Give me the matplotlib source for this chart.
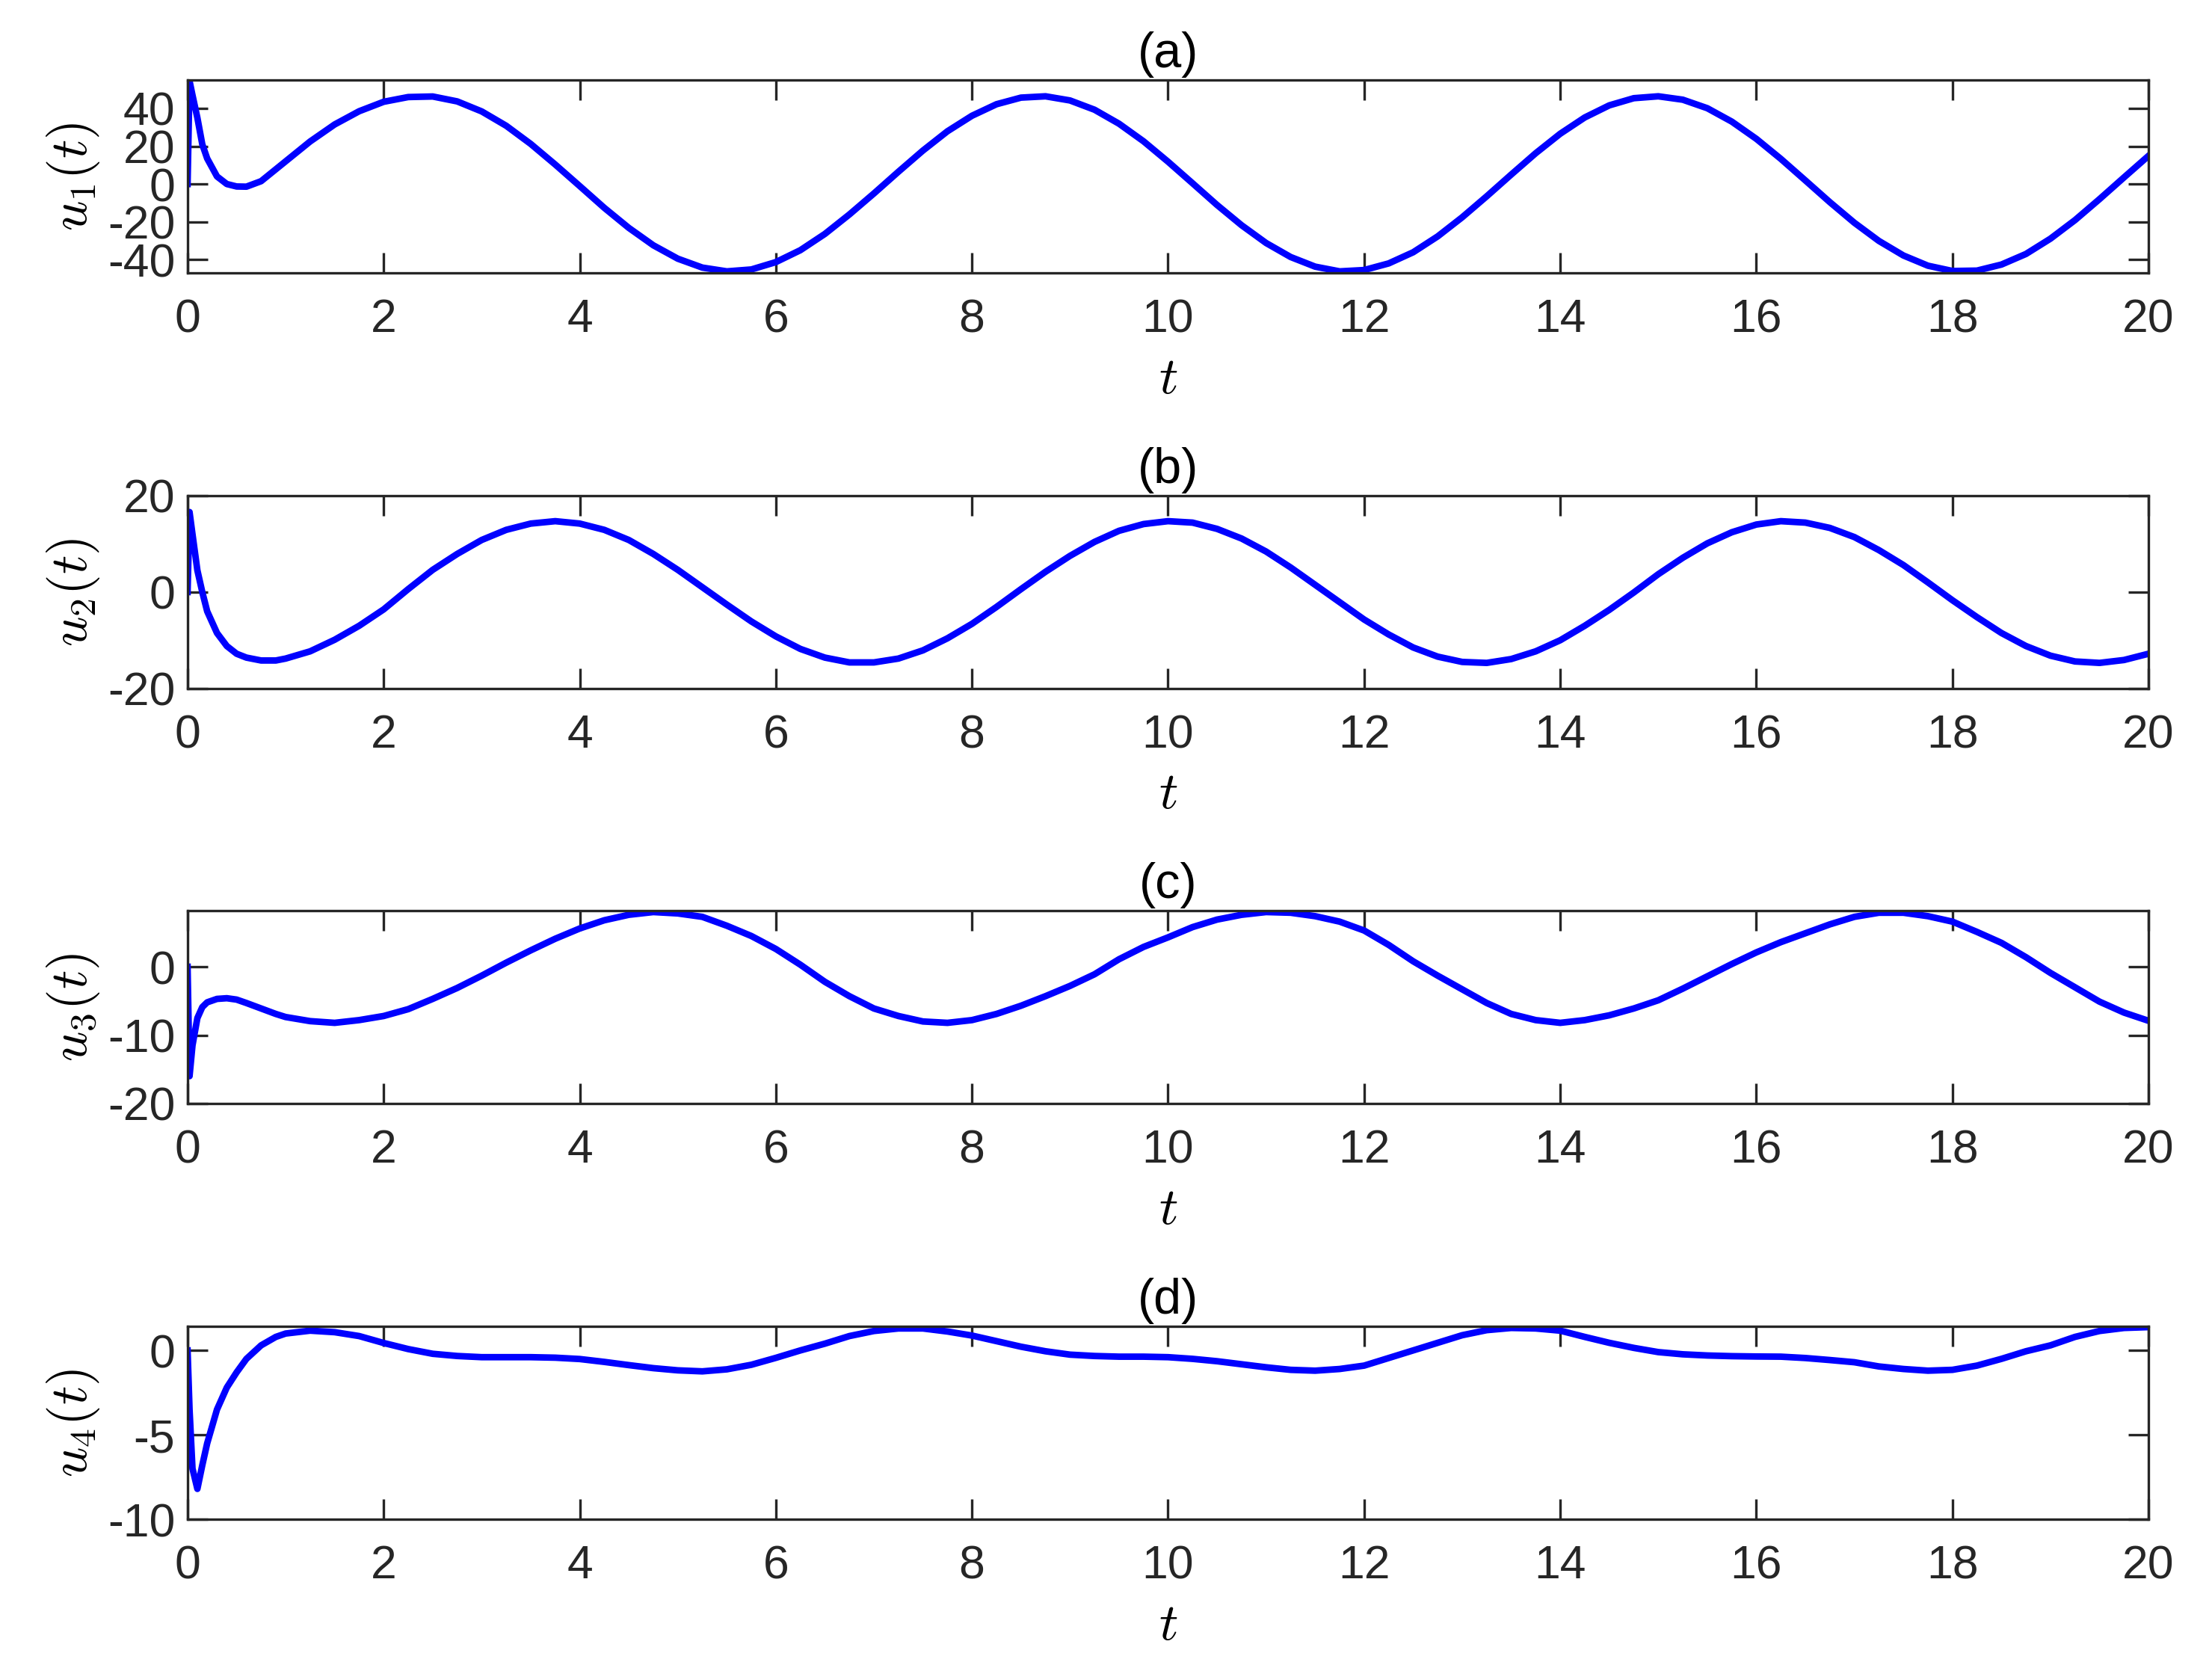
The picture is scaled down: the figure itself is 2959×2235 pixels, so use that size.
import matplotlib
matplotlib.use("Agg")
import matplotlib.pyplot as plt
import numpy as np

plt.rcParams['font.family'] = ['Liberation Sans', 'DejaVu Sans']
plt.rcParams['mathtext.fontset'] = 'cm'
plt.rcParams['axes.unicode_minus'] = False

# ---- data ----
t = [0, 0.02, 0.05, 0.1, 0.15, 0.2, 0.3, 0.4, 0.5, 0.6, 0.75, 0.9,
     1.0, 1.25, 1.5, 1.75, 2.0, 2.25, 2.5, 2.75, 3.0, 3.25, 3.5, 3.75,
     4.0, 4.25, 4.5, 4.75, 5.0, 5.25, 5.5, 5.75, 6.0, 6.25, 6.5, 6.75,
     7.0, 7.25, 7.5, 7.75, 8.0, 8.25, 8.5, 8.75, 9.0, 9.25, 9.5, 9.75,
     10.0, 10.25, 10.5, 10.75, 11.0, 11.25, 11.5, 11.75, 12.0, 12.25, 12.5, 12.75,
     13.0, 13.25, 13.5, 13.75, 14.0, 14.25, 14.5, 14.75, 15.0, 15.25, 15.5, 15.75,
     16.0, 16.25, 16.5, 16.75, 17.0, 17.25, 17.5, 17.75, 18.0, 18.25, 18.5, 18.75,
     19.0, 19.25, 19.5, 19.75, 20.0]

u1 = [0, 54.5, 47, 35, 21, 13.5, 4, 0, -1.3, -1.4, 1.5, 7.8,
      12.0, 22.5, 31.5, 38.5, 43.5, 46.0, 46.3, 43.7, 38.4, 30.8, 21.2, 10.3,
      -1.1, -12.6, -23.2, -32.4, -39.5, -44.2, -46.2, -45.2, -41.3, -35.0, -26.4, -16.1,
      -5.0, 6.5, 17.7, 27.9, 36.1, 42.2, 45.7, 46.4, 44.2, 39.3, 31.9, 22.6,
      11.8, 0.4, -11.1, -21.8, -31.2, -38.6, -43.7, -46.2, -45.5, -42.0, -36.1, -27.7,
      -17.6, -6.5, 5.0, 16.3, 26.6, 35.2, 41.6, 45.4, 46.4, 44.6, 40.1, 33.0,
      23.9, 13.3, 1.9, -9.6, -20.5, -30.1, -37.8, -43.2, -46.0, -45.8, -42.6, -37.0,
      -28.9, -19.1, -8.0, 3.5, 14.9]

u2 = [0, 16.6, 12, 4.5, 0, -4, -8.5, -11.2, -12.8, -13.6, -14.2, -14.2,
      -13.8, -12.3, -9.9, -7.0, -3.6, 0.6, 4.6, 7.9, 10.8, 12.9, 14.2, 14.7,
      14.2, 12.9, 10.8, 7.9, 4.6, 1.0, -2.6, -6.1, -9.2, -11.8, -13.6, -14.6,
      -14.6, -13.8, -12.1, -9.6, -6.6, -3.1, 0.6, 4.2, 7.5, 10.4, 12.7, 14.1,
      14.7, 14.4, 13.1, 11.1, 8.4, 5.1, 1.5, -2.1, -5.7, -8.8, -11.5, -13.4,
      -14.5, -14.7, -13.9, -12.3, -10.0, -7.0, -3.7, -0.1, 3.7, 7.1, 10.1, 12.4,
      14.0, 14.7, 14.4, 13.3, 11.4, 8.7, 5.6, 2.0, -1.7, -5.2, -8.5, -11.2,
      -13.2, -14.4, -14.7, -14.1, -12.8]

u3 = [0, -16, -11.5, -7.5, -5.9, -5.2, -4.7, -4.6, -4.8, -5.3, -6.1, -6.9,
      -7.35, -7.95, -8.2, -7.8, -7.2, -6.2, -4.7, -3.1, -1.3, 0.6, 2.4, 4.1,
      5.6, 6.8, 7.6, 8.0, 7.8, 7.3, 6.0, 4.5, 2.6, 0.3, -2.2, -4.3,
      -6.1, -7.2, -8.0, -8.2, -7.8, -6.9, -5.7, -4.3, -2.8, -1.1, 1.1, 2.9,
      4.3, 5.8, 6.9, 7.6, 8.0, 7.9, 7.4, 6.6, 5.3, 3.2, 0.8, -1.3,
      -3.3, -5.3, -6.9, -7.8, -8.2, -7.8, -7.1, -6.1, -4.9, -3.2, -1.4, 0.4,
      2.1, 3.6, 4.9, 6.2, 7.3, 7.9, 7.9, 7.4, 6.6, 5.1, 3.5, 1.4,
      -0.9, -3.0, -5.1, -6.7, -7.9]

u4 = [0, -3.5, -7.0, -8.2, -6.8, -5.5, -3.5, -2.2, -1.3, -0.5, 0.3, 0.8,
      1.0, 1.17, 1.08, 0.85, 0.44, 0.08, -0.2, -0.33, -0.4, -0.4, -0.4, -0.43,
      -0.51, -0.68, -0.87, -1.05, -1.18, -1.24, -1.12, -0.85, -0.44, 0.0, 0.4, 0.85,
      1.15, 1.3, 1.3, 1.12, 0.88, 0.55, 0.22, -0.05, -0.25, -0.33, -0.37, -0.37,
      -0.4, -0.5, -0.64, -0.82, -1.0, -1.15, -1.2, -1.1, -0.9, -0.45, 0.0, 0.45,
      0.9, 1.2, 1.33, 1.3, 1.17, 0.8, 0.45, 0.15, -0.1, -0.23, -0.3, -0.34,
      -0.36, -0.37, -0.45, -0.57, -0.7, -0.95, -1.1, -1.2, -1.15, -0.9, -0.5, -0.05,
      0.3, 0.8, 1.15, 1.33, 1.38]

series = [u1, u2, u3, u4]
titles = ['(a)', '(b)', '(c)', '(d)']
ylabels = [r'$u_1(t)$', r'$u_2(t)$', r'$u_3(t)$', r'$u_4(t)$']
ylims = [(-47, 55), (-20, 20), (-20, 8.2), (-10, 1.42)]
yticks = [[-40, -20, 0, 20, 40], [-20, 0, 20], [-20, -10, 0], [-10, -5, 0]]
xticks = [0, 2, 4, 6, 8, 10, 12, 14, 16, 18, 20]

# ---- figure ----
fig = plt.figure(figsize=(2959 / 300, 2235 / 300), dpi=300)
left, width, height = 0.0848, 0.8865, 0.1154
bottoms = [0.8367, 0.5880, 0.3396, 0.0908]
axcol = '#262626'

for i in range(4):
    ax = fig.add_axes([left, bottoms[i], width, height])
    ax.plot(t, series[i], color=(0, 0, 1), lw=2.1, solid_joinstyle='round')
    ax.set_xlim(0, 20)
    ax.set_ylim(*ylims[i])
    ax.set_xticks(xticks)
    ax.set_yticks(yticks[i])
    ax.tick_params(direction='in', top=True, right=True, length=6.5, width=0.8,
                   labelsize=15, colors=axcol, labelcolor=axcol)
    ax.tick_params(axis='x', pad=8)
    ax.tick_params(axis='y', pad=4)
    for sp in ax.spines.values():
        sp.set_color(axcol)
        sp.set_linewidth(0.8)
    ax.set_title(titles[i], fontsize=16, pad=4, color='black')
    ax.set_xlabel(r'$t$', fontsize=17, color='black')
    ax.set_ylabel(ylabels[i], fontsize=17, color='black')
    ax.xaxis.set_label_coords(0.5, -0.425)
    ax.yaxis.set_label_coords(-0.044, 0.5)

fig.savefig('out.png', dpi=300)
